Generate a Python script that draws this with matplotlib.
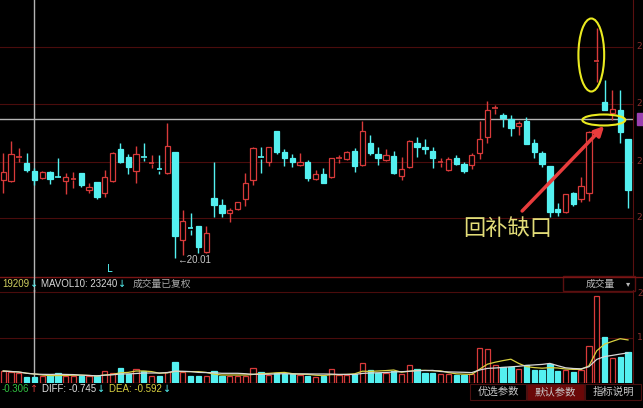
import matplotlib
matplotlib.use('Agg')
import matplotlib.pyplot as plt
import numpy as np
import pandas as pd
from matplotlib.patches import Ellipse, Rectangle

# daily candles
opens = [21.60, 21.58, 22.04, 21.94, 21.78, 21.64, 21.76, 21.66, 21.58, 21.59,
         21.74, 21.40, 21.56, 21.34, 21.58, 22.22, 22.06, 21.78, 22.06, 21.91,
         21.82, 21.74, 22.16, 20.40, 20.64, 20.68, 20.16, 21.24, 21.10, 20.94,
         21.02, 21.22, 21.60, 22.06, 21.96, 22.58, 22.16, 22.04, 21.90, 21.96,
         21.62, 21.72, 21.66, 22.01, 22.02, 22.18, 21.90, 22.34, 22.12, 22.00,
         22.08, 21.68, 21.86, 22.34, 22.26, 22.18, 21.93, 21.80, 22.04, 21.92,
         21.90, 22.14, 22.46, 23.01, 22.90, 22.82, 22.68, 22.78, 22.34, 22.14,
         21.88, 21.02, 20.96, 21.34, 21.22, 21.34, 23.96, 23.16, 22.94, 23.00,
         22.42]
highs = [22.14, 22.38, 22.24, 22.14, 21.84, 21.78, 21.78, 22.04, 21.74, 21.76,
         21.74, 21.54, 21.56, 21.80, 22.16, 22.34, 22.12, 22.28, 22.34, 22.10,
         22.10, 22.74, 22.16, 21.00, 20.94, 20.68, 20.68, 21.96, 21.22, 21.04,
         21.16, 21.74, 22.26, 22.26, 22.26, 22.58, 22.22, 22.12, 22.14, 22.00,
         21.80, 21.84, 22.04, 22.10, 22.18, 22.24, 22.78, 22.50, 22.26, 22.22,
         22.18, 22.06, 22.40, 22.46, 22.42, 22.26, 22.04, 22.06, 22.10, 21.96,
         22.14, 22.78, 23.18, 23.10, 22.94, 22.90, 22.78, 22.86, 22.42, 22.18,
         21.88, 21.14, 21.32, 21.36, 21.66, 22.58, 24.64, 23.60, 23.40, 23.40,
         22.42]
lows = [21.34, 21.56, 21.96, 21.76, 21.50, 21.62, 21.52, 21.64, 21.32, 21.44,
        21.46, 21.34, 21.22, 21.26, 21.56, 21.94, 21.72, 21.54, 21.98, 21.84,
        21.72, 21.72, 20.04, 20.10, 20.50, 20.14, 20.14, 20.86, 20.86, 20.76,
        21.00, 21.08, 21.50, 21.74, 21.88, 22.12, 21.88, 21.86, 21.88, 21.58,
        21.60, 21.54, 21.64, 21.94, 22.00, 21.76, 21.88, 22.10, 21.90, 21.98,
        21.72, 21.60, 21.84, 22.06, 22.12, 21.84, 21.86, 21.78, 21.90, 21.74,
        21.82, 22.02, 22.34, 22.92, 22.66, 22.48, 22.50, 22.32, 22.04, 21.86,
        20.86, 20.88, 20.94, 21.08, 21.16, 21.18, 23.56, 23.00, 22.80, 22.34,
        21.04]
closes = [21.76, 22.12, 22.06, 21.80, 21.60, 21.76, 21.62, 21.64, 21.66, 21.61,
          21.50, 21.46, 21.26, 21.66, 22.14, 21.96, 21.86, 22.12, 22.04, 21.93,
          21.78, 22.28, 20.48, 20.78, 20.60, 20.26, 20.54, 21.10, 20.94, 21.00,
          21.16, 21.54, 22.24, 22.02, 22.26, 22.16, 22.04, 21.96, 21.96, 21.64,
          21.72, 21.54, 22.04, 22.03, 22.16, 21.88, 22.58, 22.14, 22.04, 22.10,
          21.74, 21.82, 22.38, 22.26, 22.22, 22.04, 21.95, 22.02, 21.92, 21.78,
          22.10, 22.42, 23.00, 23.03, 22.84, 22.64, 22.74, 22.32, 22.16, 21.92,
          20.96, 20.96, 21.32, 21.12, 21.48, 22.56, 23.98, 23.00, 23.02, 22.56,
          21.40]
volumes = [2640, 2420, 2200, 1320, 1320, 1540, 1760, 2200, 1540, 1540,
           1540, 1540, 1540, 2640, 2200, 3300, 1980, 3080, 2640, 1540,
           1540, 2420, 4620, 2420, 1540, 1540, 1540, 2640, 1540, 1540,
           1540, 1540, 3300, 2420, 1760, 2200, 1980, 1980, 1760, 1540,
           1320, 1540, 3080, 1760, 1760, 1980, 4400, 2860, 2200, 2200,
           2640, 1980, 3960, 3080, 2200, 2200, 1980, 1980, 1760, 1760,
           1980, 7700, 7480, 3960, 3520, 3520, 3080, 3960, 2860, 2860,
           4180, 2640, 2860, 2420, 2860, 8140, 19209, 10120, 5500, 5720,
           6820]
grid_levels = [20.84, 21.96, 23.12, 24.26]
cross_price = 22.82
cross_idx = 3.95

RED = '#d83a3a'
CYAN = '#54f0f0'
GRID = '#4a0c0c'
CJK = ['Noto Sans CJK SC', 'DejaVu Sans']
LAT = ['Liberation Sans', 'DejaVu Sans']
ARW = ['DejaVu Sans']

W, H = 643, 408
fig = plt.figure(figsize=(W / 100, H / 100), dpi=100, facecolor='black')
renderer = fig.canvas.get_renderer()

def fx(px):
    return px / W

def fy(py):
    return 1 - py / H

n = len(opens)
idx = np.arange(n)
xl = (-0.41, 80.64)

# price panel
ax = fig.add_axes([0, fy(276), fx(633), 276 / H], facecolor='black')
ax.set_xlim(*xl)
ax.set_ylim(19.68, 25.2)
for g in grid_levels:
    ax.axhline(g, color=GRID, lw=0.8, zorder=0)
ax.axhline(cross_price, color='#b4b4b4', lw=1.0, zorder=1)
ax.axvline(cross_idx, color='#b4b4b4', lw=1.0, zorder=1)

for i in idx:
    o, h, l, c = opens[i], highs[i], lows[i], closes[i]
    up = c >= o
    col = RED if up else CYAN
    top, bot = max(o, c), min(o, c)
    ax.vlines(i, top, h, color=col, lw=1, zorder=3)
    ax.vlines(i, l, bot, color=col, lw=1, zorder=3)
    if top - bot < 0.04:
        ax.hlines(top, i - 0.35, i + 0.35, color=col, lw=1.2, zorder=3)
    else:
        ax.add_patch(Rectangle((i - 0.34, bot), 0.68, top - bot,
                               facecolor='black' if up else col,
                               edgecolor=col, lw=0.9, zorder=4))

ax.text(22.25, 20.0, '\u219020.01', color='#c8c8c8', fontsize=7, family=LAT,
        va='center', ha='left')
ax.text(13.7, 19.82, 'L', color=CYAN, fontsize=7, va='center', ha='center')

# annotations
ax.add_patch(Ellipse((75.3, 24.1), 3.3, 1.46, fill=False, edgecolor='#eaea20', lw=1.5, zorder=6))
ax.add_patch(Ellipse((76.9, 22.8), 5.5, 0.22, fill=False, edgecolor='#eaea20', lw=1.5, zorder=6))
ax.annotate('', xy=(77.2, 22.72), xytext=(66.2, 20.94),
            arrowprops=dict(arrowstyle='-|>', color='#e83c3c', lw=2.5, mutation_scale=14),
            zorder=7)
ax.text(58.9, 20.62, '回补缺口', color='#e2dc78', fontsize=16, family=CJK,
        va='center', ha='left', zorder=7)

for s in ['left', 'top', 'bottom']:
    ax.spines[s].set_visible(False)
ax.spines['right'].set_color('#5a1010')
ax.set_xticks([])
ax.set_yticks([])

# volume panel
axv = fig.add_axes([0, fy(383), fx(633), (383 - 290) / H], facecolor='black')
axv.set_xlim(*xl)
axv.set_ylim(0, 20460)
axv.axhline(10000, color=GRID, lw=0.8, zorder=0)
axv.axhline(20000, color=GRID, lw=0.8, zorder=0)
axv.axvline(cross_idx, color='#b4b4b4', lw=1.0, zorder=1)
vcol = [RED if closes[i] >= opens[i] else CYAN for i in idx]
vface = ['black' if closes[i] >= opens[i] else CYAN for i in idx]
axv.bar(idx, volumes, width=0.68, facecolor=vface, edgecolor=vcol, lw=0.9, zorder=3)
vs = pd.Series(volumes)
axv.plot(idx, vs.rolling(5, min_periods=1).mean(), color='#d8d040', lw=0.9, zorder=4)
axv.plot(idx, vs.rolling(10, min_periods=1).mean(), color='#d8d8d8', lw=0.9, zorder=4)
for s in ['left', 'top', 'bottom']:
    axv.spines[s].set_visible(False)
axv.spines['right'].set_color('#5a1010')
axv.set_xticks([])
axv.set_yticks([])

# separators
fig.add_artist(plt.Line2D([0, 1], [fy(276.5), fy(276.5)], color='#7a1515', lw=1))
fig.add_artist(plt.Line2D([fx(cross_idx * 7.81 + 3.2)] * 2, [fy(276), fy(291)], color='#b4b4b4', lw=1))

# right axis labels (only the first digit shows at the edge)
for g in grid_levels:
    fig.text(fx(636), fy(276 - (g - 19.68) / 0.02), '2', color='#8a3030',
             fontsize=6.5, va='center', ha='left')
fig.text(fx(637), fy(293), '2', color='#8a3030', fontsize=6.5, va='center')
fig.text(fx(637), fy(337), '1', color='#8a3030', fontsize=6.5, va='center')
fig.add_artist(Rectangle((fx(637), fy(125)), fx(6), 12 / H, color='#9a40b0'))

# header texts laid out one after another
def seq(y, parts, x=2):
    for txt, col, fam, gap in parts:
        t = fig.text(fx(x), fy(y), txt, color=col, fontsize=7, va='center', ha='left', family=fam)
        x += t.get_window_extent(renderer).width + gap

seq(284, [('19209', '#d0d060', LAT, 1), ('\u2193', CYAN, ARW, 3),
          ('MAVOL10: 23240', '#d8d8d8', LAT, 1), ('\u2193', CYAN, ARW, 6),
          ('成交量已复权', '#a8a8a8', CJK, 0)])
seq(389, [('-0.306', '#30c040', LAT, 1), ('\u2191', RED, ARW, 3),
          ('DIFF: -0.745', '#e0e0e0', LAT, 1), ('\u2193', CYAN, ARW, 4),
          ('DEA: -0.592', '#d8d040', LAT, 1), ('\u2193', CYAN, ARW, 0)])

# selector box
fig.add_artist(Rectangle((fx(563), fy(291)), fx(72), 15 / H, fill=False, edgecolor='#5a1010', lw=1))
fig.text(fx(600), fy(284), '成交量', color='#b8b8b8', fontsize=7, ha='center', va='center', family=CJK)
fig.text(fx(628), fy(284), '\u25be', color='#b8b8b8', fontsize=6, ha='center', va='center', family=ARW)

# buttons
for x0, x1, label, face in [(470, 526, '优选参数', 'black'),
                            (527, 584, '默认参数', '#6a0808'),
                            (585, 641, '指标说明', 'black')]:
    fig.add_artist(Rectangle((fx(x0), fy(400)), fx(x1 - x0), 16 / H,
                             facecolor=face, edgecolor='#4a1010', lw=0.8))
    fig.text(fx((x0 + x1) / 2), fy(392), label, color='#c8c8c8', fontsize=7.5,
             ha='center', va='center', family=CJK)

fig.savefig('out.png', dpi=100, facecolor='black')
